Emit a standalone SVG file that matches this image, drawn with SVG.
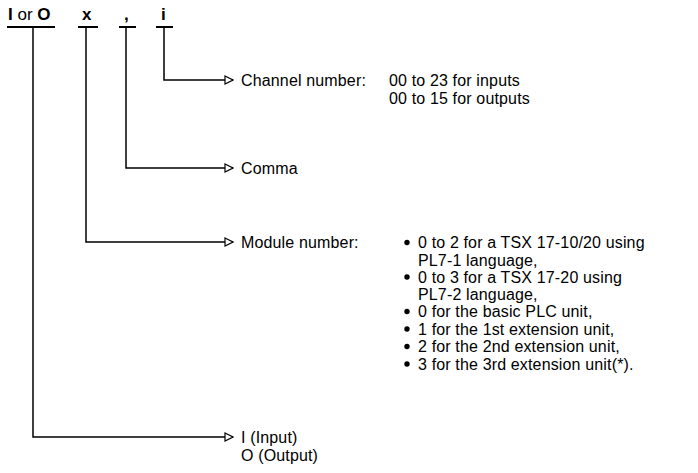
<svg xmlns="http://www.w3.org/2000/svg" width="698" height="473" viewBox="0 0 698 473">
<defs>
<style>
text{font-family:"Liberation Sans",Arial,sans-serif;font-size:16px;letter-spacing:0.15px;fill:#000}
.hd{font-size:17px;letter-spacing:0}
.b{font-weight:bold}
.ln{stroke:#000;stroke-width:1.5;fill:none}
.ul{stroke:#000;stroke-width:2;fill:none}
</style>
<marker id="ah" markerWidth="10" markerHeight="10" refX="9" refY="5" orient="auto" markerUnits="userSpaceOnUse">
<path d="M1,1 L9,5 L1,9 Z" fill="#fff" stroke="#000" stroke-width="1.2"/>
</marker>
</defs>
<rect width="698" height="473" fill="#fff"/>
<g id="header">
<text class="hd" x="8" y="20"><tspan class="b">I</tspan> or <tspan class="b">O</tspan></text>
<text class="hd b" x="82" y="20">x</text>
<text class="hd b" x="124" y="20">,</text>
<text class="hd b" x="161" y="20">i</text>
<line class="ul" x1="7" y1="27" x2="55" y2="27"/>
<line class="ul" x1="78" y1="27" x2="98" y2="27"/>
<line class="ul" x1="119" y1="27" x2="136" y2="27"/>
<line class="ul" x1="156" y1="27" x2="173" y2="27"/>
</g>
<g id="connectors">
<path class="ln" d="M164,27 V80 H233" marker-end="url(#ah)"/>
<path class="ln" d="M126,27 V168 H233" marker-end="url(#ah)"/>
<path class="ln" d="M86,27 V242 H233" marker-end="url(#ah)"/>
<path class="ln" d="M33,27 V437 H233" marker-end="url(#ah)"/>
</g>
<g id="channel">
<text x="241" y="86">Channel number:</text>
<text x="389" y="86">00 to 23 for inputs</text>
<text x="389" y="104">00 to 15 for outputs</text>
</g>
<g id="comma">
<text x="241" y="174">Comma</text>
</g>
<g id="module">
<text x="241" y="248">Module number:</text>
<g fill="#000">
<circle cx="407" cy="242.5" r="2.7"/>
<circle cx="407" cy="277" r="2.7"/>
<circle cx="407" cy="311.5" r="2.7"/>
<circle cx="407" cy="329" r="2.7"/>
<circle cx="407" cy="346.5" r="2.7"/>
<circle cx="407" cy="364" r="2.7"/>
</g>
<text x="418" y="248">0 to 2 for a TSX 17-10/20 using</text>
<text x="418" y="265.5">PL7-1 language,</text>
<text x="418" y="282.5">0 to 3 for a TSX 17-20 using</text>
<text x="418" y="300">PL7-2 language,</text>
<text x="418" y="317">0 for the basic PLC unit,</text>
<text x="418" y="334.5">1 for the 1st extension unit,</text>
<text x="418" y="352">2 for the 2nd extension unit,</text>
<text x="418" y="369.5">3 for the 3rd extension unit(*).</text>
</g>
<g id="io">
<text x="241" y="443">I (Input)</text>
<text x="241" y="461">O (Output)</text>
</g>
</svg>
